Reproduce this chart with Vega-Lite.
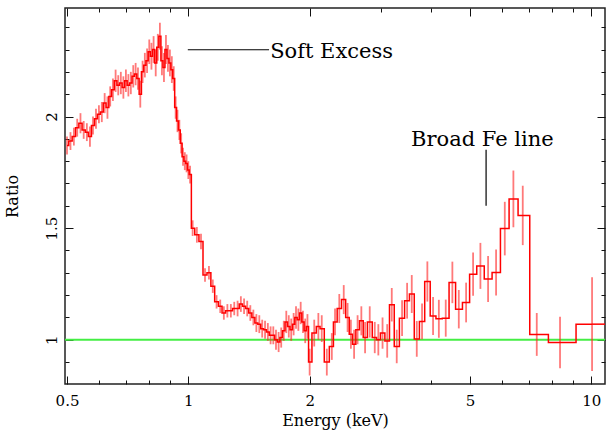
{
  "$schema": "https://vega.github.io/schema/vega-lite/v6.json",
  "width": 540,
  "height": 376,
  "autosize": "none",
  "padding": {"left": 65, "top": 8, "right": 1, "bottom": 50},
  "background": "white",
  "config": {
    "view": {"stroke": "#222222", "strokeWidth": 1.5},
    "font": "DejaVu Serif",
    "style": {"guide-label": {"font": "DejaVu Serif"}, "guide-title": {"font": "DejaVu Serif"}},
    "axis": {"grid": false, "domain": false, "labelFont": "DejaVu Serif", "titleFont": "DejaVu Serif", "labelColor": "#000000", "titleColor": "#000000", "tickColor": "#111111", "tickWidth": 1, "labelOverlap": false, "labelFlush": false}
  },
  "datasets": {
    "spec": [
      {"e": 0.50, "r": 1.87, "err": 0.04},
      {"e": 0.51, "r": 1.89, "err": 0.04},
      {"e": 0.52, "r": 1.91, "err": 0.04},
      {"e": 0.53, "r": 1.95, "err": 0.04},
      {"e": 0.54, "r": 1.97, "err": 0.045},
      {"e": 0.55, "r": 1.94, "err": 0.04},
      {"e": 0.56, "r": 1.93, "err": 0.04},
      {"e": 0.57, "r": 1.91, "err": 0.045},
      {"e": 0.58, "r": 1.96, "err": 0.04},
      {"e": 0.59, "r": 1.99, "err": 0.045},
      {"e": 0.60, "r": 2.01, "err": 0.04},
      {"e": 0.61, "r": 2.02, "err": 0.045},
      {"e": 0.62, "r": 2.06, "err": 0.045},
      {"e": 0.63, "r": 2.04, "err": 0.05},
      {"e": 0.64, "r": 2.09, "err": 0.045},
      {"e": 0.65, "r": 2.12, "err": 0.05},
      {"e": 0.66, "r": 2.16, "err": 0.05},
      {"e": 0.67, "r": 2.14, "err": 0.045},
      {"e": 0.68, "r": 2.15, "err": 0.05},
      {"e": 0.69, "r": 2.13, "err": 0.05},
      {"e": 0.70, "r": 2.16, "err": 0.05},
      {"e": 0.71, "r": 2.14, "err": 0.05},
      {"e": 0.72, "r": 2.15, "err": 0.05},
      {"e": 0.73, "r": 2.18, "err": 0.05},
      {"e": 0.74, "r": 2.19, "err": 0.05},
      {"e": 0.75, "r": 2.17, "err": 0.05},
      {"e": 0.76, "r": 2.10, "err": 0.06},
      {"e": 0.77, "r": 2.20, "err": 0.05},
      {"e": 0.78, "r": 2.23, "err": 0.055},
      {"e": 0.79, "r": 2.25, "err": 0.055},
      {"e": 0.80, "r": 2.29, "err": 0.055},
      {"e": 0.81, "r": 2.27, "err": 0.06},
      {"e": 0.82, "r": 2.30, "err": 0.06},
      {"e": 0.83, "r": 2.24, "err": 0.06},
      {"e": 0.84, "r": 2.31, "err": 0.06},
      {"e": 0.85, "r": 2.36, "err": 0.06},
      {"e": 0.86, "r": 2.25, "err": 0.065},
      {"e": 0.87, "r": 2.22, "err": 0.065},
      {"e": 0.88, "r": 2.30, "err": 0.065},
      {"e": 0.89, "r": 2.26, "err": 0.06},
      {"e": 0.90, "r": 2.24, "err": 0.06},
      {"e": 0.91, "r": 2.21, "err": 0.06},
      {"e": 0.92, "r": 2.17, "err": 0.055},
      {"e": 0.93, "r": 2.04, "err": 0.05},
      {"e": 0.94, "r": 1.98, "err": 0.05},
      {"e": 0.95, "r": 1.94, "err": 0.045},
      {"e": 0.96, "r": 1.88, "err": 0.045},
      {"e": 0.97, "r": 1.82, "err": 0.04},
      {"e": 0.98, "r": 1.80, "err": 0.04},
      {"e": 0.99, "r": 1.79, "err": 0.04},
      {"e": 1.00, "r": 1.76, "err": 0.04},
      {"e": 1.01, "r": 1.74, "err": 0.04},
      {"e": 1.025, "r": 1.50, "err": 0.035},
      {"e": 1.05, "r": 1.47, "err": 0.035},
      {"e": 1.075, "r": 1.44, "err": 0.035},
      {"e": 1.10, "r": 1.29, "err": 0.03},
      {"e": 1.125, "r": 1.30, "err": 0.03},
      {"e": 1.15, "r": 1.24, "err": 0.03},
      {"e": 1.175, "r": 1.17, "err": 0.03},
      {"e": 1.20, "r": 1.15, "err": 0.03},
      {"e": 1.225, "r": 1.12, "err": 0.03},
      {"e": 1.25, "r": 1.13, "err": 0.03},
      {"e": 1.275, "r": 1.13, "err": 0.03},
      {"e": 1.30, "r": 1.14, "err": 0.03},
      {"e": 1.325, "r": 1.14, "err": 0.035},
      {"e": 1.35, "r": 1.16, "err": 0.035},
      {"e": 1.375, "r": 1.15, "err": 0.035},
      {"e": 1.40, "r": 1.14, "err": 0.035},
      {"e": 1.425, "r": 1.12, "err": 0.035},
      {"e": 1.45, "r": 1.10, "err": 0.035},
      {"e": 1.475, "r": 1.075, "err": 0.04},
      {"e": 1.50, "r": 1.07, "err": 0.04},
      {"e": 1.525, "r": 1.05, "err": 0.04},
      {"e": 1.55, "r": 1.045, "err": 0.04},
      {"e": 1.575, "r": 1.035, "err": 0.04},
      {"e": 1.60, "r": 1.02, "err": 0.04},
      {"e": 1.625, "r": 1.02, "err": 0.04},
      {"e": 1.65, "r": 1.00, "err": 0.045},
      {"e": 1.675, "r": 0.99, "err": 0.045},
      {"e": 1.70, "r": 1.01, "err": 0.045},
      {"e": 1.725, "r": 1.04, "err": 0.045},
      {"e": 1.75, "r": 1.08, "err": 0.05},
      {"e": 1.775, "r": 1.06, "err": 0.05},
      {"e": 1.80, "r": 1.045, "err": 0.05},
      {"e": 1.825, "r": 1.07, "err": 0.05},
      {"e": 1.85, "r": 1.10, "err": 0.05},
      {"e": 1.875, "r": 1.09, "err": 0.05},
      {"e": 1.90, "r": 1.12, "err": 0.05},
      {"e": 1.925, "r": 1.08, "err": 0.05},
      {"e": 1.95, "r": 1.04, "err": 0.055},
      {"e": 1.975, "r": 1.06, "err": 0.055},
      {"e": 2.00, "r": 0.90, "err": 0.06},
      {"e": 2.053, "r": 1.03, "err": 0.06},
      {"e": 2.102, "r": 1.06, "err": 0.06},
      {"e": 2.143, "r": 1.05, "err": 0.06},
      {"e": 2.206, "r": 0.90, "err": 0.06},
      {"e": 2.270, "r": 0.97, "err": 0.06},
      {"e": 2.312, "r": 1.08, "err": 0.06},
      {"e": 2.369, "r": 1.14, "err": 0.065},
      {"e": 2.430, "r": 1.18, "err": 0.065},
      {"e": 2.484, "r": 1.10, "err": 0.065},
      {"e": 2.531, "r": 1.025, "err": 0.065},
      {"e": 2.578, "r": 0.98, "err": 0.065},
      {"e": 2.630, "r": 1.045, "err": 0.065},
      {"e": 2.687, "r": 1.085, "err": 0.065},
      {"e": 2.745, "r": 1.01, "err": 0.07},
      {"e": 2.819, "r": 1.08, "err": 0.07},
      {"e": 2.901, "r": 1.01, "err": 0.07},
      {"e": 2.961, "r": 1.00, "err": 0.07},
      {"e": 3.033, "r": 1.03, "err": 0.07},
      {"e": 3.115, "r": 0.995, "err": 0.075},
      {"e": 3.197, "r": 1.157, "err": 0.075},
      {"e": 3.289, "r": 0.97, "err": 0.075},
      {"e": 3.391, "r": 1.097, "err": 0.08},
      {"e": 3.490, "r": 1.175, "err": 0.08},
      {"e": 3.584, "r": 1.205, "err": 0.085},
      {"e": 3.688, "r": 1.004, "err": 0.08},
      {"e": 3.801, "r": 1.082, "err": 0.08},
      {"e": 3.918, "r": 1.261, "err": 0.09},
      {"e": 4.048, "r": 1.107, "err": 0.085},
      {"e": 4.184, "r": 1.094, "err": 0.085},
      {"e": 4.352, "r": 1.097, "err": 0.083},
      {"e": 4.520, "r": 1.257, "err": 0.093},
      {"e": 4.689, "r": 1.137, "err": 0.086},
      {"e": 4.889, "r": 1.167, "err": 0.089},
      {"e": 5.088, "r": 1.294, "err": 0.097},
      {"e": 5.305, "r": 1.331, "err": 0.103},
      {"e": 5.543, "r": 1.272, "err": 0.103},
      {"e": 5.802, "r": 1.301, "err": 0.103},
      {"e": 6.098, "r": 1.498, "err": 0.12},
      {"e": 6.405, "r": 1.631, "err": 0.127},
      {"e": 6.757, "r": 1.557, "err": 0.133},
      {"e": 7.320, "r": 1.024, "err": 0.096},
      {"e": 8.361, "r": 0.988, "err": 0.115},
      {"e": 10.04, "r": 1.07, "err": 0.21, "hi": 12}
    ]
  },
  "layer": [
    {
      "data": {"values": [{"r": 1}]},
      "mark": {"type": "rule", "color": "#44ee44", "strokeWidth": 2},
      "encoding": {
        "y": {"field": "r", "type": "quantitative", "scale": {"domain": [0.802, 2.486], "nice": false, "zero": false}, "axis": null}
      }
    },
    {
      "data": {"name": "spec"},
      "mark": {"type": "errorbar", "ticks": false, "clip": true, "rule": {"stroke": "#ff2020", "strokeWidth": 1.8, "opacity": 0.6}},
      "encoding": {
        "x": {"field": "e", "type": "quantitative", "scale": {"type": "log", "domain": [0.4943, 10.81], "nice": false}, "axis": null},
        "y": {"field": "r", "type": "quantitative", "scale": {"domain": [0.802, 2.486], "nice": false, "zero": false}, "axis": null},
        "yError": {"field": "err"}
      }
    },
    {
      "data": {"name": "spec"},
      "mark": {"type": "line", "interpolate": "step", "color": "#ff0000", "strokeWidth": 1.5, "clip": true},
      "encoding": {
        "x": {"field": "e", "type": "quantitative", "scale": {"type": "log", "domain": [0.4943, 10.81], "nice": false},
          "axis": {"orient": "bottom", "title": "Energy (keV)", "titleFont": "DejaVu Serif", "labelFont": "DejaVu Serif", "titleFontSize": 16, "titleFontWeight": "normal", "titlePadding": 0, "labelFontSize": 15, "labelPadding": 17,
            "values": [0.5, 0.6, 0.7, 0.8, 0.9, 1, 2, 3, 4, 5, 6, 7, 8, 9, 10],
            "labelExpr": "indexof([0.5, 1, 2, 5, 10], datum.value) >= 0 ? '' + datum.value : ''",
            "tickSize": {"condition": {"test": "indexof([0.5, 1, 2, 5, 10], datum.value) >= 0", "value": -8}, "value": -4}}},
        "y": {"field": "r", "type": "quantitative", "scale": {"domain": [0.802, 2.486], "nice": false, "zero": false},
          "axis": {"orient": "left", "title": "Ratio", "titleFont": "DejaVu Serif", "labelFont": "DejaVu Serif", "titleFontSize": 16, "titleFontWeight": "normal", "titlePadding": 20, "labelFontSize": 15, "labelPadding": 17, "labelAngle": -90, "labelAlign": "center", "labelBaseline": "alphabetic",
            "values": [0.9, 1, 1.1, 1.2, 1.3, 1.4, 1.5, 1.6, 1.7, 1.8, 1.9, 2, 2.1, 2.2, 2.3, 2.4],
            "labelExpr": "datum.value == 1 || datum.value == 1.5 || datum.value == 2 ? '' + datum.value : ''",
            "tickSize": {"condition": {"test": "datum.value == 1 || datum.value == 1.5 || datum.value == 2", "value": -8}, "value": -4}}}
      }
    },
    {
      "data": {"name": "spec"},
      "transform": [{"filter": {"field": "hi", "valid": true}}],
      "mark": {"type": "rule", "color": "#ff0000", "strokeWidth": 1.5, "clip": true},
      "encoding": {
        "x": {"field": "e", "type": "quantitative", "scale": {"type": "log", "domain": [0.4943, 10.81], "nice": false},
          "axis": {"orient": "top", "title": null, "labels": false,
            "values": [0.5, 0.6, 0.7, 0.8, 0.9, 1, 2, 3, 4, 5, 6, 7, 8, 9, 10],
            "tickSize": {"condition": {"test": "indexof([0.5, 1, 2, 5, 10], datum.value) >= 0", "value": -8}, "value": -4}}},
        "x2": {"field": "hi"},
        "y": {"field": "r", "type": "quantitative", "scale": {"domain": [0.802, 2.486], "nice": false, "zero": false},
          "axis": {"orient": "right", "title": null, "labels": false,
            "values": [0.9, 1, 1.1, 1.2, 1.3, 1.4, 1.5, 1.6, 1.7, 1.8, 1.9, 2, 2.1, 2.2, 2.3, 2.4],
            "tickSize": {"condition": {"test": "datum.value == 1 || datum.value == 1.5 || datum.value == 2", "value": -8}, "value": -4}}}
      }
    },
    {
      "data": {"values": [{"e1": 0.997, "e2": 1.586, "y": 2.299}]},
      "mark": {"type": "rule", "color": "#000000", "strokeWidth": 1.2},
      "encoding": {
        "x": {"field": "e1", "type": "quantitative", "scale": {"type": "log", "domain": [0.4943, 10.81], "nice": false}, "axis": null},
        "x2": {"field": "e2"},
        "y": {"field": "y", "type": "quantitative", "scale": {"domain": [0.802, 2.486], "nice": false, "zero": false}, "axis": null}
      }
    },
    {
      "data": {"values": [{"e": 5.48, "y1": 1.60, "y2": 1.851}]},
      "mark": {"type": "rule", "color": "#000000", "strokeWidth": 1.2},
      "encoding": {
        "x": {"field": "e", "type": "quantitative", "scale": {"type": "log", "domain": [0.4943, 10.81], "nice": false}, "axis": null},
        "y": {"field": "y1", "type": "quantitative", "scale": {"domain": [0.802, 2.486], "nice": false, "zero": false}, "axis": null},
        "y2": {"field": "y2"}
      }
    },
    {
      "data": {"values": [{"e": 1.596, "y": 2.262, "label": "Soft Excess"}, {"e": 3.569, "y": 1.870, "label": "Broad Fe line"}]},
      "mark": {"type": "text", "align": "left", "baseline": "alphabetic", "font": "DejaVu Serif", "fontSize": 21, "color": "#000000"},
      "encoding": {
        "x": {"field": "e", "type": "quantitative", "scale": {"type": "log", "domain": [0.4943, 10.81], "nice": false}, "axis": null},
        "y": {"field": "y", "type": "quantitative", "scale": {"domain": [0.802, 2.486], "nice": false, "zero": false}, "axis": null},
        "text": {"field": "label"}
      }
    }
  ],
  "resolve": {"axis": {"x": "independent", "y": "independent"}}
}
